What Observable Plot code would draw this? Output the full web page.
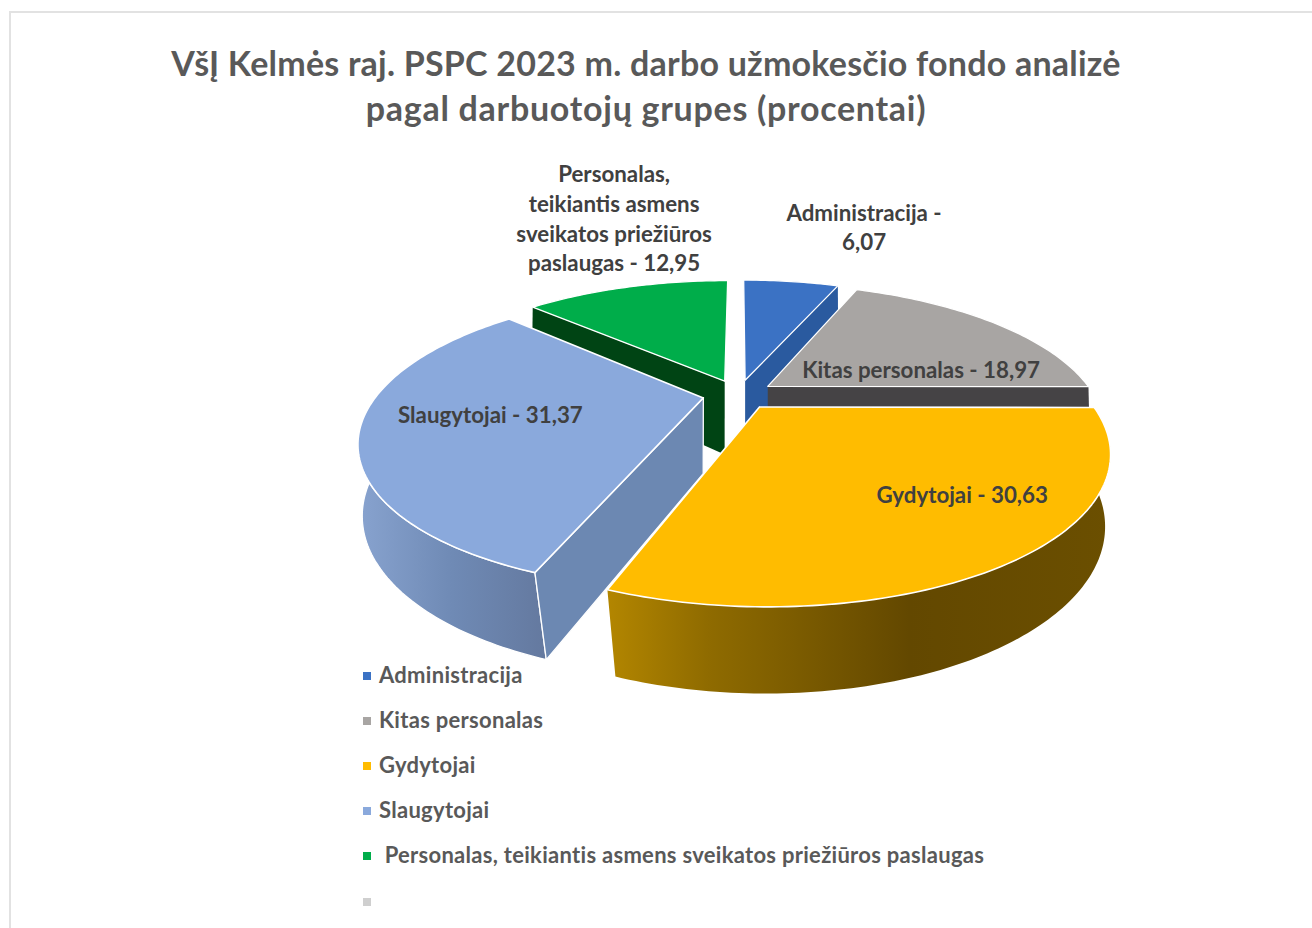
<!DOCTYPE html>
<html lang="lt">
<head>
<meta charset="utf-8">
<script src="https://cdn.jsdelivr.net/npm/d3@7"></script>
<script src="https://cdn.jsdelivr.net/npm/@observablehq/plot@0.6"></script>
<style>
html,body{margin:0;padding:0;background:#fff;overflow:hidden;width:1312px;height:928px}
body{position:relative;font-family:Lato,"Open Sans",sans-serif}
#frame{position:absolute;left:9px;top:11px;width:1303px;height:917px;box-sizing:border-box;border-left:2px solid #e2e2e2;border-top:2px solid #e2e2e2}
#title{position:absolute;left:0;top:40px;width:1292px;text-align:center;font-weight:700;font-size:34px;letter-spacing:.22px;line-height:45px;color:#595959}
#title span{letter-spacing:.72px}
#chart{position:absolute;left:0;top:140px}
#legend{position:absolute;left:363px;top:653.5px;font-weight:700;font-size:22px;letter-spacing:.29px;color:#595959}
.row{display:flex;align-items:center;height:45.1px}
.sw{width:8px;height:8px;margin-right:8px;flex:none}
.row span{white-space:pre;position:relative;top:-1.5px}
</style>
</head>
<body>
<div id="frame"></div>
<div id="title">VšĮ Kelmės raj. PSPC 2023 m. darbo užmokesčio fondo analizė<br><span>pagal darbuotojų grupes (procentai)</span></div>
<div id="chart"></div>
<div id="legend"></div>
<script>
const groups = ["Administracija", "Kitas personalas", "Gydytojai", "Slaugytojai", "Personalas, teikiantis asmens sveikatos priežiūros paslaugas"];
const shares = [6.07, 18.97, 30.63, 31.37, 12.95];
const labelNames = ["Administracija -\n", "Kitas personalas - ", "Gydytojai - ", "Slaugytojai - ", "Personalas,\nteikiantis asmens\nsveikatos priežiūros\npaslaugas - "];
const colors = ["#3b72c4", "#a8a5a3", "#ffbc00", "#8aa9dc", "#00ad4a"];
const legendNames = [...groups, ""];
const legendColors = [...colors, "#cfcfcf"];

// 3D view of the pie: centre, radius, perspective, tilt, thickness, explosion
const view = {cx: 738, cy: 394, R: 326, p: 0.28, k: 0.415, q0: -0.005, q1: 0.05, D: 75, e: 0.11};
const labelNudge = [[73, -55.5], [-73, 45.8], [-53, -66.5], [131, -17.5], [-13, -70]];

const total = d3.sum(shares);
let acc = 0;
const rad = d => d * Math.PI / 180;
const slices = shares.map((v, i) => {
  const a0 = acc / total * 360; acc += v; const a1 = acc / total * 360;
  const mid = (a0 + a1) / 2;
  return {i, a0, a1, mid, ox: view.e * Math.sin(rad(mid)), oz: view.e * Math.cos(rad(mid))};
});
function pt(s, deg, r, h) {
  const X = s.ox + r * Math.sin(rad(deg)), Z = s.oz + r * Math.cos(rad(deg));
  const q = view.q0 + view.q1 * Math.max(0, -Z);
  const w = 1 + view.p * Z + q * h;
  return {x: view.cx + view.R * X / w, y: view.cy + (-view.k * view.R * Z + view.D * h) / w};
}
function arc(s, from, to, h) {
  const n = Math.max(2, Math.ceil(Math.abs(to - from)));
  return d3.range(n + 1).map(j => pt(s, from + (to - from) * j / n, 1, h));
}
const topFace = s => { const t = pt(s, 0, 0, 0); return [t, ...arc(s, s.a0, s.a1, 0), t]; };
const cutWall = (s, deg) => {
  const a = pt(s, 0, 0, 0), b = pt(s, deg, 1, 0), c = pt(s, deg, 1, 1), d = pt(s, 0, 0, 1);
  return [a, b, c, d, a];
};
const arcWall = (s, from, to) => {
  const up = arc(s, from, to, 0), down = arc(s, from, to, 1).reverse();
  return [...up, ...down, up[0]];
};
const face = (pts, fill, stroke, strokeWidth) => Plot.line(pts, {
  x: "x", y: "y", fill, stroke, strokeWidth, strokeLinejoin: "round", curve: "linear"
});
const [adm, kit, gyd, sla, per] = slices;

const defs = () => d3.create("svg:defs").html(`
  <linearGradient id="gydSide" x1="0" x2="1" y1="0" y2="0">
    <stop offset="0" stop-color="#b38600"/><stop offset="0.2" stop-color="#8f6b00"/>
    <stop offset="0.6" stop-color="#634800"/><stop offset="1" stop-color="#6b4f00"/>
  </linearGradient>
  <linearGradient id="slaSide" x1="0" x2="1" y1="0" y2="0">
    <stop offset="0" stop-color="#88a3cf"/><stop offset="0.5" stop-color="#6f8ab5"/>
    <stop offset="1" stop-color="#64799f"/>
  </linearGradient>`).node();

const labels = slices.map((s, i) => {
  const a = pt(s, s.mid, 1, 0);
  return {
    x: a.x + labelNudge[i][0], y: a.y + labelNudge[i][1],
    text: labelNames[i] + d3.format(".2f")(shares[i]).replace(".", ",")
  };
});

const plot = Plot.plot({
  width: 1312, height: 560,
  margin: 0,
  x: {domain: [0, 1312], range: [0, 1312], axis: null},
  y: {domain: [140, 700], range: [0, 560], axis: null},
  style: {background: "transparent"},
  marks: [
    defs,
    face(cutWall(per, per.a0), "#004414", "none", 0),
    face(topFace(per), colors[4], "#fff", 1.3),
    face(cutWall(adm, adm.a1), "#2a5a9f", "none", 0),
    face(topFace(adm), colors[0], "#fff", 1.3),
    face(cutWall(kit, kit.a1), "#454345", "none", 0),
    face(topFace(kit), colors[1], "#fff", 1.3),
    face(arcWall(sla, sla.a0, sla.a0 + 85), "url(#slaSide)", "#fff", 1.3),
    face(cutWall(sla, sla.a0), "#6c88b2", "#fff", 1.3),
    face(topFace(sla), colors[3], "#fff", 1.6),
    face(arcWall(gyd, gyd.a0, gyd.a1), "url(#gydSide)", "none", 0),
    face(topFace(gyd), colors[2], "#fff", 1.6),
    Plot.text(labels, {
      x: "x", y: "y", text: "text", fill: "#404040", fontWeight: 700, fontSize: 22.3,
      fontFamily: "Lato, 'Open Sans', sans-serif", lineHeight: 1.33, textAnchor: "middle", lineAnchor: "middle"
    })
  ]
});
document.getElementById("chart").append(plot);

d3.select("#legend").selectAll("div").data(legendNames).join("div").attr("class", "row")
  .html("")
  .each(function (name, i) {
    const row = d3.select(this);
    row.append("div").attr("class", "sw").style("background", legendColors[i]);
    row.append("span").text(i === 4 ? " " + name : name);
  });
</script>
</body>
</html>
